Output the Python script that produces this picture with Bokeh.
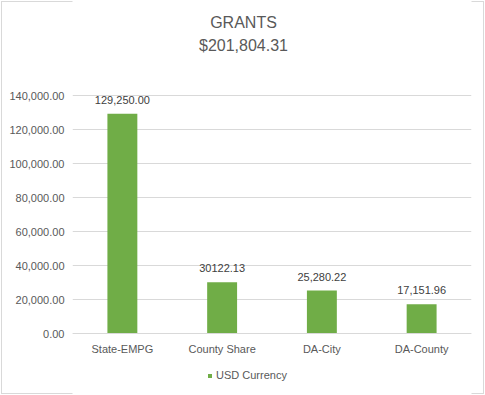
from bokeh.plotting import figure
from bokeh.models import (ColumnDataSource, Label, Legend, LegendItem, NumeralTickFormatter,
                          Range1d, InlineStyleSheet)
from bokeh.core.properties import value
from bokeh.embed import file_html
from bokeh.resources import INLINE

categories = ["State-EMPG", "County Share", "DA-City", "DA-County"]
amounts = [129250.00, 30122.13, 25280.22, 17151.96]
amount_labels = ["129,250.00", "30122.13", "25,280.22", "17,151.96"]
y_ticks = [0, 20000, 40000, 60000, 80000, 100000, 120000, 140000]
title_line1 = "GRANTS"
title_line2 = "$201,804.31"
series_name = "USD Currency"

FONT = "Liberation Sans"
GREEN = "#70ad47"
TXT = "#595959"

W, H = 485, 395
TOP_GRID_PX = 95     # canvas row of the highest gridline
ZERO_PX = 333        # canvas row of the zero line
units_per_px = max(y_ticks) / (ZERO_PX - TOP_GRID_PX)
y_top = max(y_ticks) + TOP_GRID_PX * units_per_px
y_bot = -(H - ZERO_PX) * units_per_px

src = ColumnDataSource(dict(cat=categories, val=amounts, lab=amount_labels))

p = figure(x_range=categories, y_range=Range1d(y_bot, y_top), width=W, height=H,
           output_backend="svg", toolbar_location=None,
           min_border_left=72, min_border_right=14, min_border_top=0, min_border_bottom=0)
p.outline_line_color = None
p.background_fill_color = "white"
p.border_fill_color = None
p.stylesheets = [InlineStyleSheet(css=":host { background: white; box-shadow: inset 0 0 0 1px white, inset 0 0 0 2px #d9d9d9; outline: 1px solid #d9d9d9; outline-offset: -2px; }")]

bars = p.vbar(x="cat", top="val", width=0.3, source=src, fill_color=GREEN, line_color=None)
p.text(x="cat", y="val", text="lab", source=src, y_offset=-14, text_align="center",
       text_baseline="middle", text_font=value(FONT), text_font_size="11px", text_color="#404040")

p.xgrid.grid_line_color = None
p.ygrid.grid_line_color = "#d9d9d9"
p.ygrid.grid_line_width = 1
p.ygrid.ticker = y_ticks

p.yaxis.ticker = y_ticks
p.yaxis.formatter = NumeralTickFormatter(format="0,0.00")
p.yaxis.axis_line_color = None
p.yaxis.major_tick_line_color = None
p.yaxis.minor_tick_line_color = None
p.yaxis.major_tick_out = 0
p.yaxis.major_label_standoff = 8
p.yaxis.major_label_text_font = FONT
p.yaxis.major_label_text_font_size = "11px"
p.yaxis.major_label_text_color = TXT

p.xaxis.fixed_location = 0
p.xaxis.axis_line_color = "#d9d9d9"
p.xaxis.major_tick_line_color = None
p.xaxis.major_tick_out = 0
p.xaxis.major_label_standoff = 9
p.xaxis.major_label_text_font = FONT
p.xaxis.major_label_text_font_size = "11px"
p.xaxis.major_label_text_color = TXT

# title lines, in screen px relative to the plot frame (bottom-left origin)
for txt, row in [(title_line1, 22), (title_line2, 45)]:
    p.add_layout(Label(x=171, y=H - row, x_units="screen", y_units="screen", text=txt,
                       text_align="center", text_baseline="middle", text_font=FONT,
                       text_font_size="16px", text_color=TXT))

legend = Legend(items=[LegendItem(label=series_name, renderers=[bars])],
                location=(135, 14), orientation="horizontal",
                glyph_width=5, glyph_height=5, label_standoff=4, label_height=12,
                padding=0, margin=0, spacing=0,
                border_line_color=None, background_fill_alpha=0,
                label_text_font=FONT, label_text_font_size="11px", label_text_color=TXT)
p.add_layout(legend, "center")

open("out.html", "w").write(file_html(p, INLINE))
